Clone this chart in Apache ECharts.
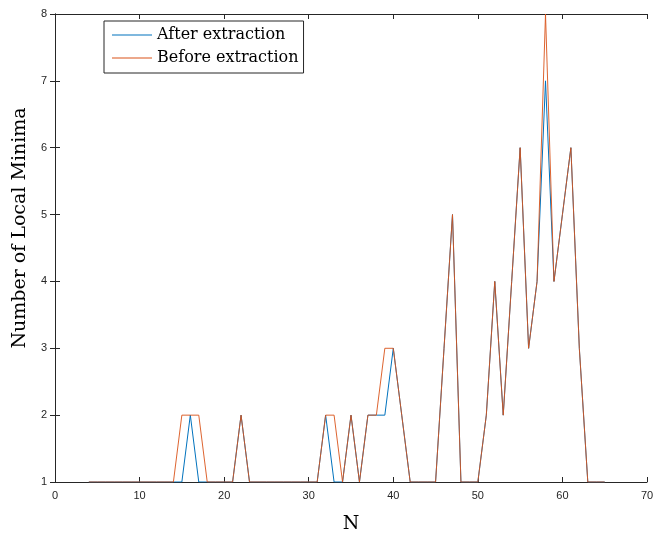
<!DOCTYPE html>
<html>
<head>
<meta charset="utf-8">
<script src="https://cdn.jsdelivr.net/npm/echarts@6/dist/echarts.min.js"></script>
<style>
  html, body { margin: 0; padding: 0; background: #fff; }
  #chart { width: 654px; height: 533px; }
</style>
</head>
<body>
<div id="chart"></div>
<script>
// N values (4..65)
const nValues = [4,5,6,7,8,9,10,11,12,13,14,15,16,17,18,19,20,21,22,23,24,25,26,27,28,29,30,31,32,33,34,35,36,37,38,39,40,41,42,43,44,45,46,47,48,49,50,51,52,53,54,55,56,57,58,59,60,61,62,63,64,65];
// Local minima count after extraction
const afterExtraction = [1,1,1,1,1,1,1,1,1,1,1,1,2,1,1,1,1,1,2,1,1,1,1,1,1,1,1,1,2,1,1,2,1,2,2,2,3,2,1,1,1,1,3,5,1,1,1,2,4,2,4,6,3,4,7,4,5,6,3,1,1,1];
// Local minima count before extraction
const beforeExtraction = [1,1,1,1,1,1,1,1,1,1,1,2,2,2,1,1,1,1,2,1,1,1,1,1,1,1,1,1,2,2,1,2,1,2,2,3,3,2,1,1,1,1,3,5,1,1,1,2,4,2,4,6,3,4,8,4,5,6,3,1,1,1];
const xTicks = [0, 10, 20, 30, 40, 50, 60, 70];
const yTicks = [1, 2, 3, 4, 5, 6, 7, 8];

const pairs = (ys) => nValues.map((n, i) => [n, ys[i]]);

const serifFont = 'DejaVu Serif, Liberation Serif, serif';
const axisLine = { show: true, lineStyle: { color: '#262626', width: 1 } };
const tickStyle = { show: true, inside: true, length: 5, lineStyle: { color: '#262626', width: 1 } };
const labelFont = { color: '#262626', fontFamily: 'Liberation Sans, Arial, sans-serif', fontSize: 11 };

const chart = echarts.init(document.getElementById('chart'), null, { renderer: 'canvas' });
chart.setOption({
  animation: false,
  backgroundColor: '#fff',
  grid: { left: 55, right: 7, top: 14, bottom: 51, containLabel: false, outerBoundsMode: 'none' },
  legend: {
    left: 104, top: 21,
    orient: 'vertical',
    backgroundColor: '#fff',
    borderColor: '#262626', borderWidth: 1, borderRadius: 0,
    padding: [4, 5, 5, 8],
    itemGap: 3,
    icon: 'rect',
    itemWidth: 40, itemHeight: 1,
    textStyle: { fontFamily: serifFont, fontSize: 16, color: '#000', padding: [0, 0, 0, 0], lineHeight: 20 },
    data: ['After extraction', 'Before extraction']
  },
  xAxis: [
    {
      type: 'value', min: xTicks[0], max: xTicks[xTicks.length - 1], interval: 10,
      position: 'bottom',
      name: 'N', nameLocation: 'middle', nameGap: 33,
      nameTextStyle: { fontFamily: serifFont, fontSize: 19, color: '#000' },
      axisLine, axisTick: tickStyle,
      axisLabel: Object.assign({ margin: 8 }, labelFont),
      splitLine: { show: false }
    },
    {
      type: 'value', min: xTicks[0], max: xTicks[xTicks.length - 1], interval: 10,
      position: 'top',
      axisLine, axisTick: tickStyle, axisLabel: { show: false }, splitLine: { show: false }
    }
  ],
  yAxis: [
    {
      type: 'value', min: yTicks[0], max: yTicks[yTicks.length - 1], interval: 1,
      position: 'left',
      name: 'Number of Local Minima', nameLocation: 'middle', nameGap: 24,
      nameTextStyle: { fontFamily: serifFont, fontSize: 19, color: '#000', padding: [0, 0, 0, 40] },
      axisLine, axisTick: tickStyle,
      axisLabel: Object.assign({ margin: 8 }, labelFont),
      splitLine: { show: false }
    },
    {
      type: 'value', min: yTicks[0], max: yTicks[yTicks.length - 1], interval: 1,
      position: 'right',
      axisLine, axisTick: tickStyle, axisLabel: { show: false }, splitLine: { show: false }
    }
  ],
  series: [
    {
      name: 'After extraction', type: 'line', data: pairs(afterExtraction),
      symbol: 'none', color: '#0072BD', lineStyle: { width: 1, color: '#0072BD' }, z: 2
    },
    {
      name: 'Before extraction', type: 'line', data: pairs(beforeExtraction),
      symbol: 'none', color: '#D95319', lineStyle: { width: 1, color: '#D95319', opacity: 0.9 }, z: 3
    }
  ]
});
</script>
</body>
</html>
